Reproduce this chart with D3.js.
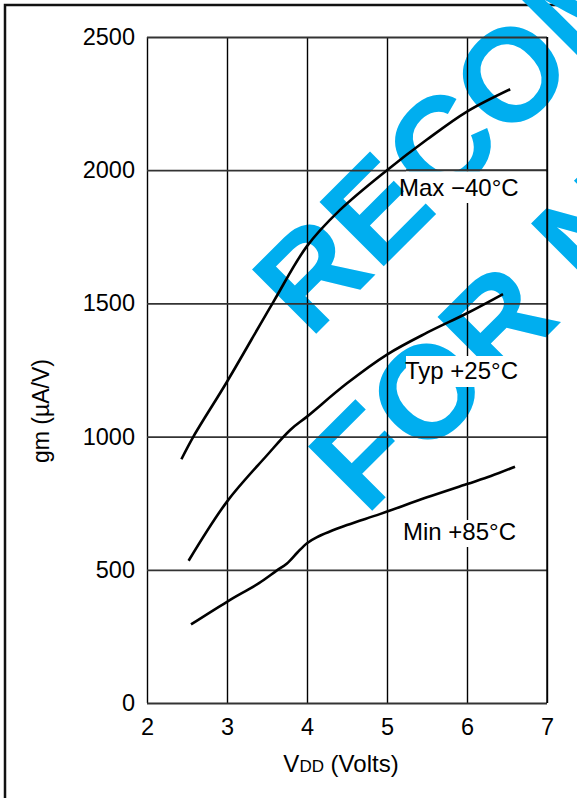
<!DOCTYPE html>
<html>
<head>
<meta charset="utf-8">
<script src="https://cdn.jsdelivr.net/npm/d3@7"></script>
<style>
  html, body { margin: 0; padding: 0; background: #fff; }
  svg { display: block; }
  text { font-family: "Liberation Sans", Arial, Helvetica, sans-serif; }
</style>
</head>
<body>
<svg id="chart" width="577" height="798"></svg>
<script>
// ---- data ----
const xTicks = [2, 3, 4, 5, 6, 7];
const yTicks = [0, 500, 1000, 1500, 2000, 2500];
const maxVdd = [2.43, 2.58, 3.0, 3.58, 4.0, 4.41, 5.0, 5.5, 6.0, 6.54];
const maxGm  = [915, 1000, 1206, 1506, 1715, 1850, 2000, 2115, 2220, 2304];
const typVdd = [2.52, 3.0, 3.5, 3.79, 4.0, 4.5, 5.0, 5.5, 6.0, 6.45];
const typGm  = [534, 756, 930, 1025, 1075, 1200, 1308, 1390, 1463, 1535];
const minVdd = [2.55, 3.0, 3.4, 3.62, 3.75, 3.88, 4.0, 4.12, 4.5, 4.91, 5.5, 6.0, 6.3, 6.6];
const minGm  = [295, 380, 450, 497, 524, 565, 600, 622, 668, 709, 772, 822, 852, 887];
const seriesLabels = ["Max \u221240\u00B0C", "Typ +25\u00B0C", "Min +85\u00B0C"];
const watermark = ["RECOMMENDED", "FOR NEW DESIGN"];

// ---- layout ----
const svg = d3.select("#chart");
const x = d3.scaleLinear().domain([2, 7]).range([147, 547]);
const y = d3.scaleLinear().domain([0, 2500]).range([703, 37]);
const FONT = "'Liberation Sans', Arial, sans-serif";

// outer frame
svg.append("rect").attr("x", 5).attr("y", 5).attr("width", 640).attr("height", 860)
  .attr("fill", "none").attr("stroke", "#111").attr("stroke-width", 2.5);

// watermark
const wm = svg.append("g").attr("fill", "#00AEEF")
  .style("font-family", FONT).style("font-weight", "bold").style("font-size", "132px");
const wmPos = [[310, 340], [366, 517]];
watermark.forEach((t, i) => {
  wm.append("text").attr("transform", `translate(${wmPos[i][0]},${wmPos[i][1]}) rotate(-45)`).text(t);
});

// grid + axes
const xAxis = d3.axisBottom(x).tickValues(xTicks).tickFormat(d3.format("d"))
  .tickSizeInner(-(703 - 37)).tickSizeOuter(0).tickPadding(15.5);
const gx = svg.append("g").attr("transform", "translate(0,703)").call(xAxis);
gx.select(".domain").remove();
gx.selectAll(".tick line").attr("stroke", "#000").attr("stroke-width", 1.4);
gx.selectAll(".tick text").attr("fill", "#000").style("font-size", "23.5px").style("font-family", FONT);

const yAxis = d3.axisLeft(y).tickValues(yTicks).tickFormat(d3.format("d"))
  .tickSizeInner(-(547 - 147)).tickSizeOuter(0).tickPadding(12);
const gy = svg.append("g").attr("transform", "translate(147,0)").call(yAxis);
gy.select(".domain").remove();
gy.selectAll(".tick line").attr("stroke", "#333").attr("stroke-width", 1.8);
gy.selectAll(".tick text").attr("fill", "#000").style("font-size", "23.5px").style("font-family", FONT);

// curves
const line = d3.line().x(d => x(d[0])).y(d => y(d[1])).curve(d3.curveCatmullRom.alpha(0.5));
const series = [d3.zip(maxVdd, maxGm), d3.zip(typVdd, typGm), d3.zip(minVdd, minGm)];
svg.append("g").selectAll("path").data(series).join("path")
  .attr("d", line).attr("fill", "none").attr("stroke", "#000").attr("stroke-width", 2.6);

// labels with white boxes (boxes cover vertical grid line at 6)
const labelBoxes = [[406, 171.5, 140, 31.5], [406, 356, 114, 31], [406, 520, 114, 27]];
labelBoxes.forEach(b => {
  svg.append("rect").attr("x", b[0]).attr("y", b[1]).attr("width", b[2]).attr("height", b[3]).attr("fill", "#fff");
});
svg.append("line").attr("x1", 406).attr("x2", 547).attr("y1", y(2000)).attr("y2", y(2000))
  .attr("stroke", "#333").attr("stroke-width", 1.8);
svg.append("line").attr("x1", x(7)).attr("x2", x(7)).attr("y1", y(2500)).attr("y2", y(0))
  .attr("stroke", "#000").attr("stroke-width", 1.4);

const labelPos = [[399, 196], [405, 378.5], [403, 540]];
seriesLabels.forEach((t, i) => {
  svg.append("text").attr("x", labelPos[i][0]).attr("y", labelPos[i][1])
    .style("font-size", "24px").attr("fill", "#000").text(t);
});

// axis titles
const xt = svg.append("text").attr("x", 341).attr("y", 772).attr("text-anchor", "middle")
  .style("font-size", "24px").attr("fill", "#000");
xt.append("tspan").text("V");
xt.append("tspan").style("font-size", "17px").text("DD");
xt.append("tspan").text(" (Volts)");

svg.append("text").attr("transform", "translate(49,411) rotate(-90)").attr("text-anchor", "middle")
  .style("font-size", "23px").attr("fill", "#000").text("gm (\u00B5A/V)");
</script>
</body>
</html>
